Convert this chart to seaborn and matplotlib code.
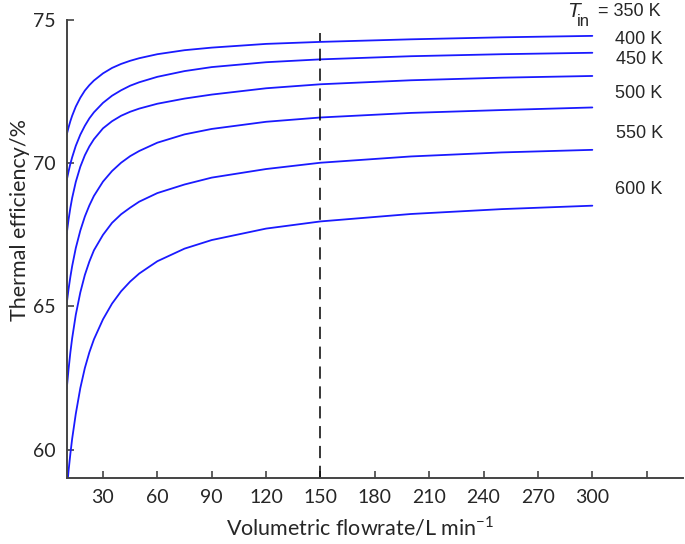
import pandas as pd
import matplotlib.pyplot as plt
import seaborn as sns

sns.set_style("ticks")
plt.rcParams['font.family'] = ['Lato', 'DejaVu Sans']

# volumetric flowrate (L/min) at which the curves were read
flow = [10, 11, 12, 13, 15, 17.5, 20, 22.5, 25, 30, 35, 40, 45, 50, 60, 75, 90, 120, 150, 200, 250, 300]

# thermal efficiency (%) for each inlet temperature
eff_350 = [71.00, 71.25, 71.47, 71.66, 71.98, 72.29, 72.54, 72.73, 72.89, 73.14, 73.33, 73.47, 73.58, 73.67, 73.81, 73.95, 74.04, 74.17, 74.24, 74.33, 74.40, 74.45]
eff_400 = [69.41, 69.71, 69.98, 70.21, 70.61, 71.00, 71.31, 71.57, 71.78, 72.11, 72.36, 72.55, 72.71, 72.83, 73.02, 73.22, 73.36, 73.53, 73.63, 73.74, 73.81, 73.86]
eff_450 = [67.54, 68.03, 68.44, 68.79, 69.35, 69.88, 70.28, 70.59, 70.84, 71.22, 71.47, 71.66, 71.80, 71.91, 72.08, 72.26, 72.40, 72.62, 72.76, 72.90, 72.99, 73.05]
eff_500 = [65.10, 65.60, 66.03, 66.41, 67.04, 67.65, 68.14, 68.53, 68.86, 69.36, 69.73, 70.02, 70.25, 70.43, 70.72, 71.01, 71.20, 71.45, 71.60, 71.76, 71.86, 71.95]
eff_550 = [62.12, 62.80, 63.39, 63.89, 64.71, 65.49, 66.10, 66.57, 66.96, 67.50, 67.92, 68.22, 68.45, 68.66, 68.96, 69.26, 69.50, 69.80, 70.02, 70.24, 70.38, 70.47]
eff_600 = [58.56, 59.25, 59.85, 60.38, 61.25, 62.15, 62.85, 63.40, 63.85, 64.55, 65.10, 65.53, 65.87, 66.15, 66.58, 67.02, 67.32, 67.72, 67.97, 68.23, 68.40, 68.52]

temps = ['350 K', '400 K', '450 K', '500 K', '550 K', '600 K']
series = [eff_350, eff_400, eff_450, eff_500, eff_550, eff_600]

design_flow = 150
x_ticks = [30, 60, 90, 120, 150, 180, 210, 240, 270, 300, 330]
x_tick_labels = ['30', '60', '90', '120', '150', '180', '210', '240', '270', '300', '']
y_ticks = [60, 65, 70, 75]

# vertical positions (figure fraction) of the right-hand temperature labels
label_fig_y = [0.928, 0.891, 0.828, 0.754, 0.651]

frames = []
for t, vals in zip(temps, series):
    frames.append(pd.DataFrame({'flow': flow, 'eff': vals, 'T': t}))
df = pd.concat(frames, ignore_index=True)

fig = plt.figure(figsize=(6.85, 5.44), dpi=100)
ax = fig.add_axes([0.0974, 0.1208, 0.8996, 0.8422])

sns.lineplot(data=df, x='flow', y='eff', units='T', estimator=None,
             color='#1a1aff', linewidth=1.3, ax=ax)

ax.axvline(design_flow, ymin=0, ymax=0.972, color='black', linewidth=1.1,
           linestyle=(0, (8, 5)))

ax.set_xlim(10, 350)
ax.set_ylim(59, 75)
ax.set_xticks(x_ticks)
ax.set_xticklabels(x_tick_labels)
ax.set_yticks(y_ticks)
ax.tick_params(direction='in', length=5, width=1.2, color='#444444',
               labelsize=14, pad=8)

sns.despine(ax=ax)
for side in ['left', 'bottom']:
    ax.spines[side].set_color('#444444')
    ax.spines[side].set_linewidth(1.4)

ax.set_xlabel('Volumetric flowrate/L min$^{\\mathregular{-1}}$', fontsize=15.5)
ax.set_ylabel('Thermal efficiency/%', fontsize=15.5)
ax.xaxis.label.set_va('center')
ax.yaxis.label.set_va('center')
ax.xaxis.set_label_coords(0.476, -0.106)
ax.yaxis.set_label_coords(-0.076, 0.564)

# temperature labels on the right
fig.text(0.8365, 0.979, 'T', ha='center', va='center', fontsize=15,
         style='italic', family='Liberation Sans')
fig.text(0.842, 0.961, 'in', ha='left', va='center', fontsize=12,
         family='Liberation Sans')
fig.text(0.873, 0.978, '= 350 K', ha='left', va='center', fontsize=13,
         family='Liberation Sans')
for t, y in zip(temps[1:], label_fig_y):
    fig.text(0.933, y, t, ha='center', va='center', fontsize=13,
             family='Liberation Sans')

fig.savefig('out.png', dpi=100)
